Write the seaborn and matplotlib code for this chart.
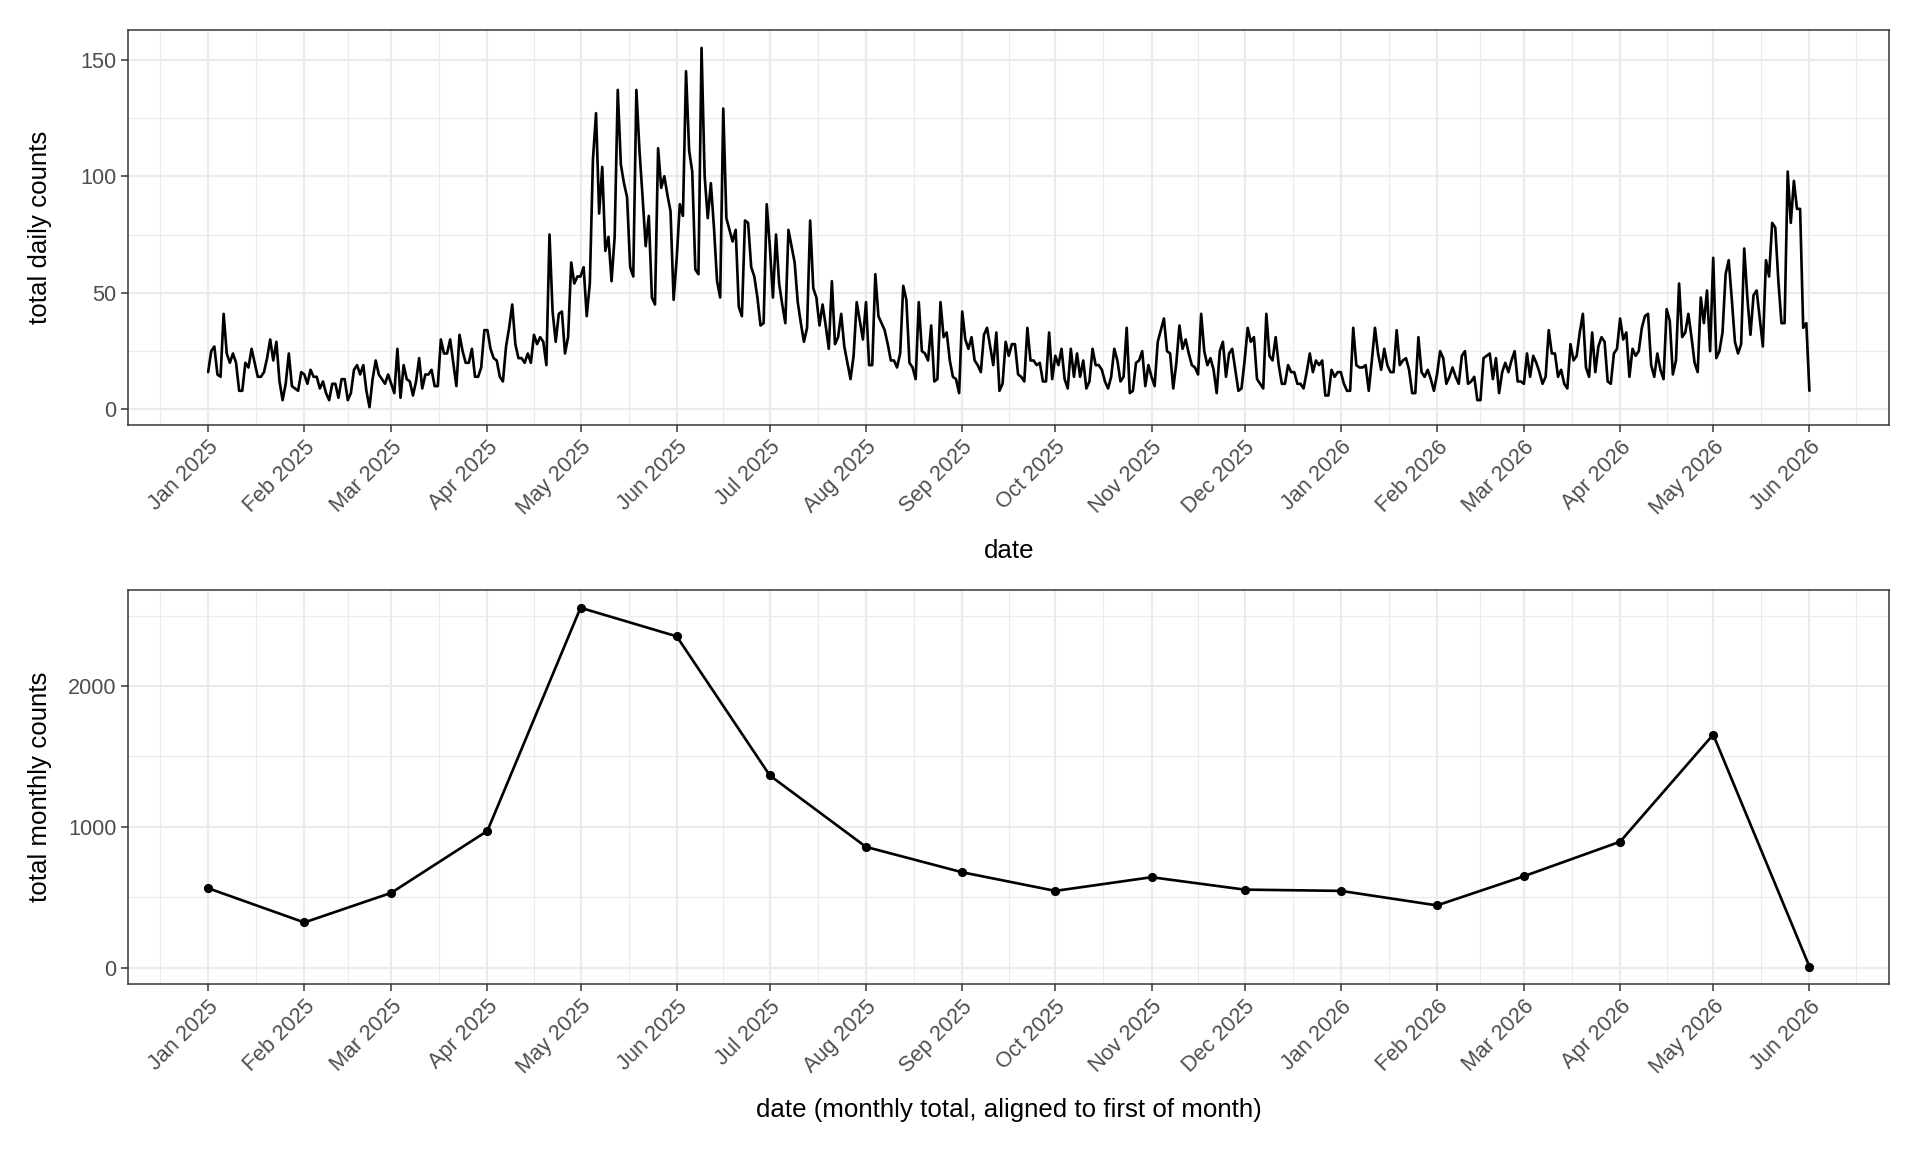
import numpy as np
import pandas as pd
import matplotlib
matplotlib.use("Agg")
import matplotlib.pyplot as plt
import matplotlib.dates as mdates
from matplotlib.ticker import MultipleLocator, FixedLocator
import seaborn as sns

# ---- daily counts, one list per month ----
jan25 = [16,25,27,15,14,41,24,20,24,20,8,8,20,18,26,20,14,14,16,22,30,21,29,12,4,11,24,10,9,8,16]
feb25 = [15,11,17,14,14,9,12,7,4,11,11,5,13,13,4,7,17,19,15,19,8,1,13,21,15,13,11,15]
mar25 = [11,7,26,5,19,13,12,6,12,22,9,15,15,17,10,10,30,24,24,30,20,10,32,25,20,20,26,14,14,18,34]
apr25 = [34,26,22,21,14,12,27,35,45,28,22,22,20,24,20,32,28,31,29,19,75,42,29,41,42,24,31,63,54,57]
may25 = [57,61,40,54,107,127,84,104,68,74,55,74,137,105,97,91,61,57,137,111,91,70,83,48,45,112,95,100,92,85,47]
jun25 = [65,88,83,145,111,102,60,58,155,100,82,97,78,55,48,129,82,77,72,77,44,40,81,80,61,57,48,36,37,88]
jul25 = [70,48,75,54,45,37,77,70,63,46,37,29,35,81,52,48,36,45,36,26,55,28,31,41,27,20,13,23,46,38,30]
aug25 = [46,19,19,58,40,37,34,28,21,21,18,24,53,47,20,18,13,46,25,24,21,36,12,13,46,31,33,21,14,13,7]
sep25 = [42,30,26,31,21,19,16,32,35,27,19,33,8,11,29,23,28,28,15,14,12,35,21,21,19,20,12,12,33,13]
oct25 = [23,19,26,13,9,26,14,24,14,21,9,12,26,19,19,17,12,9,14,26,21,12,14,35,7,8,20,21,25,10,19]
nov25 = [14,10,29,34,39,25,24,9,20,36,26,30,24,19,18,15,41,25,19,22,17,7,25,29,14,24,26,17,8,9]
dec25 = [21,35,29,31,13,11,9,41,23,21,31,19,11,11,19,16,16,11,11,9,16,24,16,21,19,21,6,6,17,14,16]
jan26 = [16,11,8,8,35,19,18,18,19,8,21,35,24,17,26,19,16,16,34,19,21,22,17,7,7,31,16,14,17,13,8]
feb26 = [15,25,22,11,14,18,14,11,23,25,11,12,14,4,4,22,23,24,13,22,7,16,20,16,21,25,12,12]
mar26 = [11,24,14,23,20,16,11,14,34,24,24,14,17,11,9,28,21,23,33,41,18,14,33,16,27,31,29,12,11,24,26]
apr26 = [39,30,33,14,26,23,25,35,40,41,19,14,24,17,13,43,38,15,21,54,31,33,41,31,20,16,48,37,51,25]
may26 = [65,22,25,33,58,64,47,29,24,28,69,48,32,49,51,39,27,64,57,80,78,55,37,37,102,80,98,86,86,35,37]
jun26 = [8]
daily_start = "2025-01-01"

# ---- monthly totals ----
month_starts = ["2025-01-01","2025-02-01","2025-03-01","2025-04-01","2025-05-01","2025-06-01",
                "2025-07-01","2025-08-01","2025-09-01","2025-10-01","2025-11-01","2025-12-01",
                "2026-01-01","2026-02-01","2026-03-01","2026-04-01","2026-05-01","2026-06-01"]
monthly_totals = [565, 322, 532, 972, 2555, 2352, 1365, 858, 678, 546, 643, 555,
                  546, 443, 650, 895, 1655, 9]

counts = (jan25 + feb25 + mar25 + apr25 + may25 + jun25 + jul25 + aug25 + sep25 +
          oct25 + nov25 + dec25 + jan26 + feb26 + mar26 + apr26 + may26 + jun26)
daily = pd.DataFrame({"date": pd.date_range(daily_start, periods=len(counts), freq="D"),
                      "count": counts})
monthly = pd.DataFrame({"date": pd.to_datetime(month_starts), "total": monthly_totals})

sns.set_theme(style="white")
plt.rcParams['font.family'] = ['Liberation Sans', 'DejaVu Sans']

fig = plt.figure(figsize=(16, 9.6), dpi=120)
ax1 = fig.add_axes([0.0667, 0.631, 0.9174, 0.343])
ax2 = fig.add_axes([0.0667, 0.1454, 0.9174, 0.3426])

sns.lineplot(data=daily, x="date", y="count", ax=ax1, color="black", linewidth=1.6)
sns.lineplot(data=monthly, x="date", y="total", ax=ax2, color="black", linewidth=1.6,
             marker="o", markersize=5.5, markeredgewidth=0)

GRID = "#EBEBEB"
DARK = "#333333"


def style(ax, ycol, df, ymaj, ymin, ylabel, xlabel):
    dmin, dmax = df["date"].min(), df["date"].max()
    span = dmax - dmin
    ax.set_xlim(dmin - 0.05 * span, dmax + 0.05 * span)
    lo, hi = df[ycol].min(), df[ycol].max()
    r = hi - lo
    ax.set_ylim(lo - 0.05 * r, hi + 0.05 * r)
    ax.xaxis.set_major_locator(mdates.MonthLocator())
    ax.xaxis.set_major_formatter(mdates.DateFormatter("%b %Y"))
    months = pd.date_range(dmin - pd.DateOffset(months=2), dmax + pd.DateOffset(months=2), freq="MS")
    mids = [months[i] + (months[i + 1] - months[i]) / 2 for i in range(len(months) - 1)]
    ax.xaxis.set_minor_locator(FixedLocator(mdates.date2num(mids)))
    ax.yaxis.set_major_locator(MultipleLocator(ymaj))
    ax.yaxis.set_minor_locator(MultipleLocator(ymin))
    ax.set_axisbelow(True)
    ax.grid(which="major", color=GRID, linewidth=1.3)
    ax.grid(which="minor", color=GRID, linewidth=0.7)
    for s in ax.spines.values():
        s.set_color(DARK)
        s.set_linewidth(0.9)
        s.set_visible(True)
    ax.tick_params(which="major", length=4, width=0.9, color=DARK, labelcolor="#4D4D4D",
                   labelsize=13, direction="out", bottom=True, left=True, pad=3)
    ax.tick_params(which="minor", length=0)
    for lab in ax.get_xticklabels():
        lab.set_rotation(45)
        lab.set_ha("right")
        lab.set_va("top")
        lab.set_rotation_mode("anchor")
    ax.set_ylabel(ylabel, fontsize=15.5, color="black")
    ax.yaxis.set_label_coords(-0.043, 0.5)
    ax.set_xlabel(xlabel, fontsize=15.5, color="black", labelpad=12)


style(ax1, "count", daily, 50, 25, "total daily counts", "date")
style(ax2, "total", monthly, 1000, 500, "total monthly counts",
      "date (monthly total, aligned to first of month)")

fig.savefig("out.png", dpi=120, facecolor="white")
